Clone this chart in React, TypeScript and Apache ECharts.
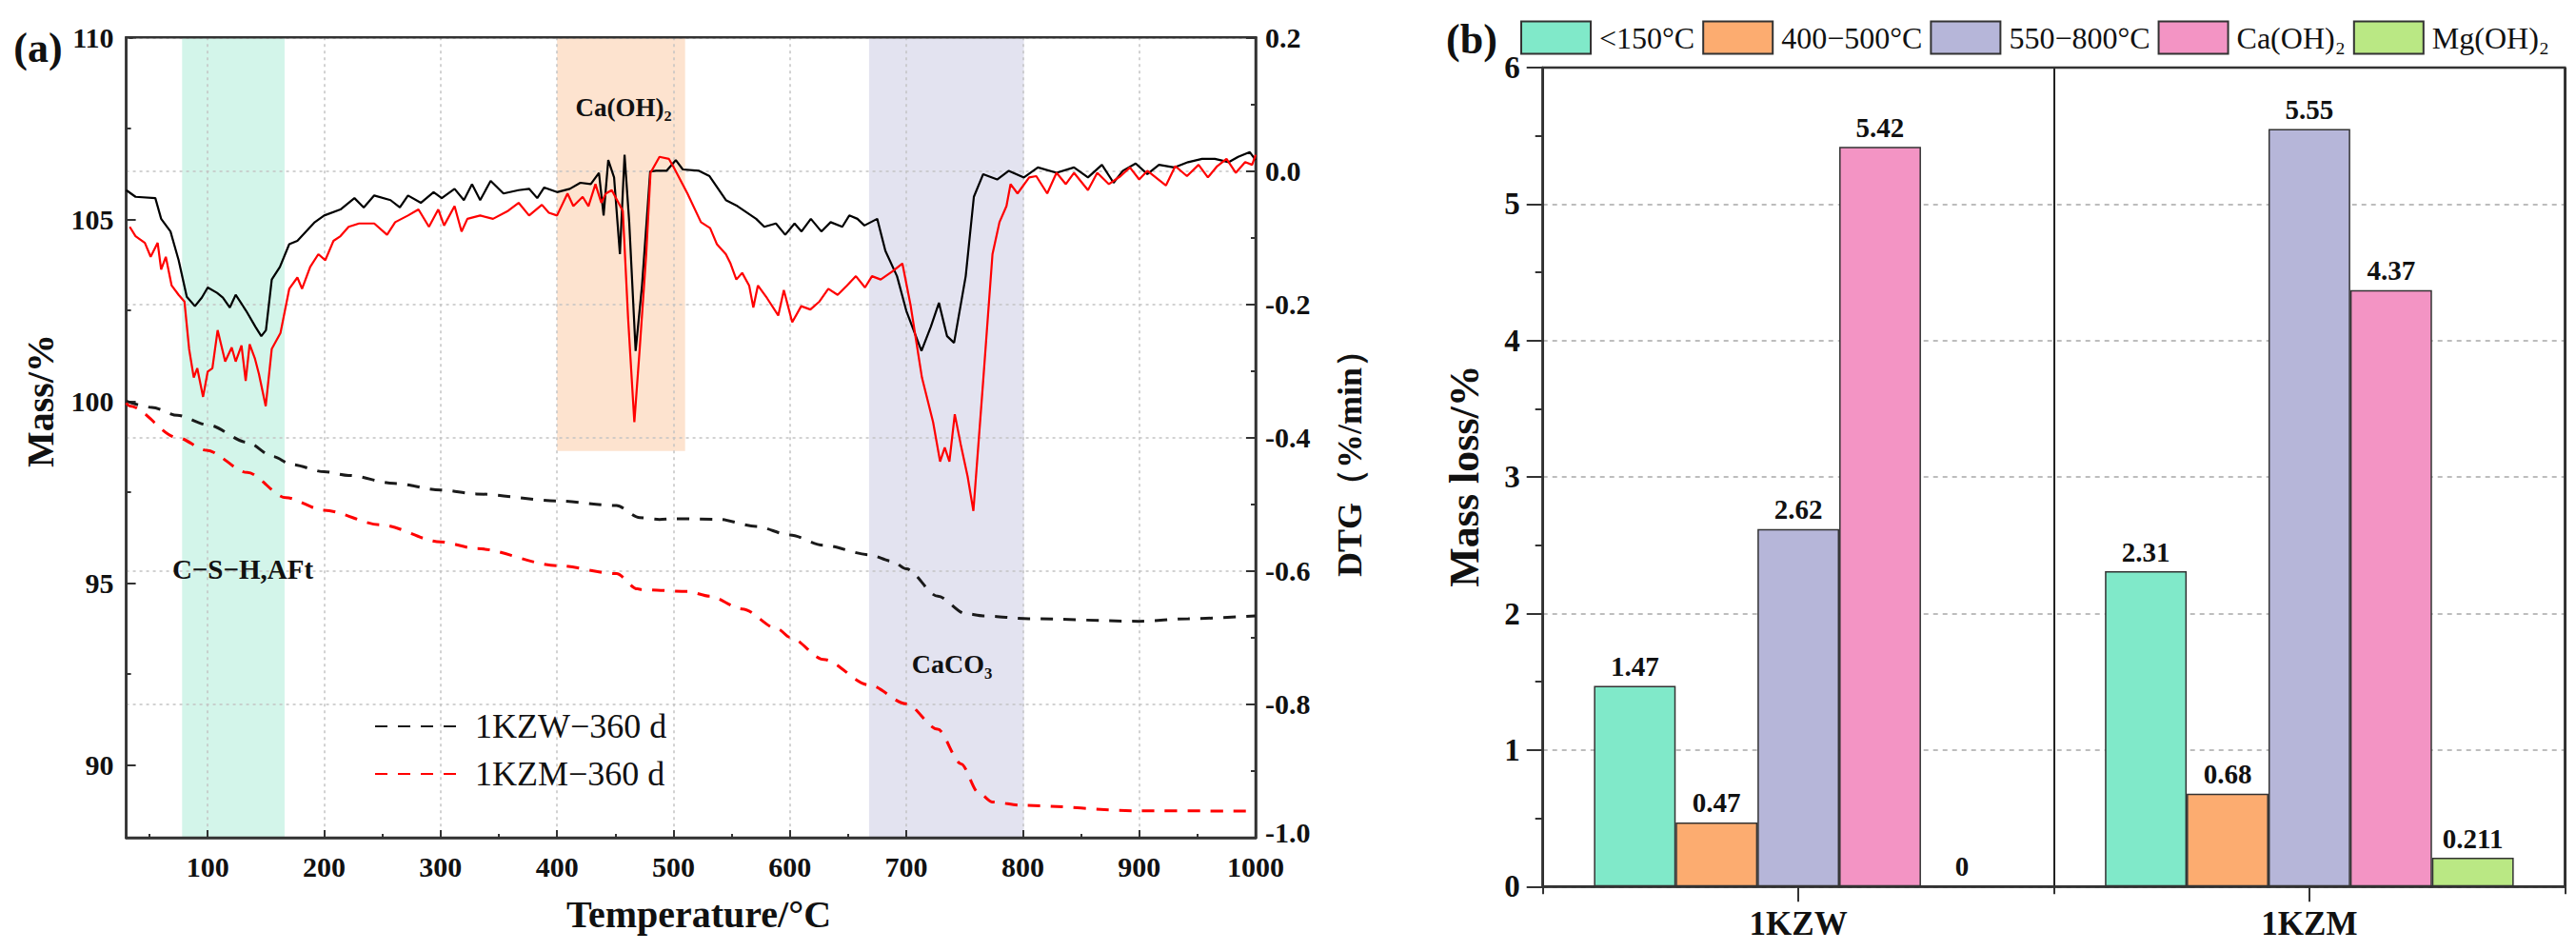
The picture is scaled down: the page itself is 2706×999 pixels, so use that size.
import React, { useEffect, useRef } from 'react';
import * as echarts from 'echarts';

const FONT = "'Liberation Serif', 'Times New Roman', Times, serif";

// ---------- Panel (a): TG / DTG ----------
const tgNames = ['1KZW−360 d', '1KZM−360 d'];
const dtgNames = ['1KZW DTG', '1KZM DTG'];

const tgKZW: [number, number][] = [
  [30, 100.0], [52, 99.83], [74, 99.61], [100, 99.35], [134, 98.87], [156, 98.48], [172, 98.26],
  [200, 98.06], [221, 97.96], [260, 97.74], [300, 97.56], [331, 97.45], [400, 97.26], [451, 97.13],
  [471, 96.8], [488, 96.75], [500, 96.77], [539, 96.75], [571, 96.56], [600, 96.32], [629, 96.04],
  [668, 95.78], [688, 95.6], [700, 95.39], [727, 94.64], [751, 94.16], [766, 94.1], [805, 94.02],
  [900, 93.95], [942, 94.02], [1000, 94.1],
];

const tgKZM: [number, number][] = [
  [30, 99.95], [33, 99.87], [74, 99.0], [99, 98.65], [134, 98.04], [167, 97.35], [200, 97.0],
  [249, 96.6], [300, 96.13], [331, 95.95], [400, 95.48], [451, 95.26], [469, 94.84], [473, 94.82],
  [512, 94.77], [531, 94.64], [559, 94.29], [590, 93.73], [600, 93.51], [629, 92.9], [668, 92.2],
  [700, 91.68], [727, 90.98], [747, 90.03], [762, 89.24], [774, 88.98], [800, 88.89], [900, 88.74],
  [1000, 88.73],
];

const dtgKZW: [number, number][] = [
  [30, -0.029], [38, -0.039], [55, -0.041], [60, -0.072], [68, -0.091], [75, -0.134], [82, -0.189],
  [89, -0.203], [95, -0.19], [100, -0.175], [108, -0.183], [113, -0.19], [119, -0.205], [124, -0.186],
  [133, -0.21], [141, -0.234], [146, -0.248], [150, -0.239], [155, -0.163], [162, -0.144], [170, -0.11],
  [177, -0.105], [192, -0.077], [200, -0.067], [214, -0.058], [226, -0.041], [234, -0.055], [243, -0.037],
  [257, -0.044], [265, -0.055], [272, -0.037], [283, -0.048], [294, -0.032], [301, -0.041], [312, -0.027],
  [320, -0.044], [327, -0.02], [334, -0.044], [343, -0.015], [354, -0.034], [367, -0.029], [376, -0.027],
  [383, -0.041], [389, -0.025], [400, -0.032], [411, -0.027], [420, -0.018], [429, -0.02], [436, -0.003],
  [440, -0.067], [444, 0.016], [449, -0.01], [454, -0.125], [458, 0.024], [462, -0.077], [467.5, -0.27],
  [473, -0.172], [480, -0.001], [485, 0.0], [494, 0.0], [502, 0.016], [508, 0.002], [522, 0.0],
  [531, -0.008], [545, -0.044], [555, -0.053], [571, -0.072], [578, -0.084], [588, -0.079], [596, -0.096],
  [604, -0.079], [610, -0.091], [618, -0.072], [627, -0.091], [635, -0.077], [645, -0.084], [651, -0.067],
  [658, -0.072], [664, -0.082], [675, -0.072], [682, -0.12], [692, -0.158], [700, -0.21], [713, -0.27],
  [721, -0.234], [728, -0.198], [735, -0.248], [741, -0.258], [751, -0.158], [758, -0.039], [766, -0.005],
  [778, -0.013], [788, 0.0], [801, -0.01], [813, 0.005], [829, -0.003], [844, 0.005], [856, -0.01],
  [868, 0.009], [878, -0.018], [886, 0.0], [897, 0.011], [907, -0.005], [917, 0.009], [930, 0.005],
  [942, 0.013], [954, 0.018], [965, 0.018], [977, 0.013], [985, 0.021], [995, 0.028], [1000, 0.016],
];

const dtgKZM: [number, number][] = [
  [33, -0.084], [38, -0.098], [46, -0.108], [51, -0.129], [57, -0.108], [60, -0.148], [64, -0.129],
  [69, -0.172], [75, -0.186], [80, -0.196], [84, -0.267], [88, -0.31], [91, -0.296], [96, -0.339],
  [100, -0.301], [104, -0.296], [108.5, -0.239], [115, -0.286], [120.6, -0.265], [124, -0.286],
  [129, -0.262], [132.6, -0.315], [136, -0.26], [140.6, -0.282], [144, -0.305], [149.8, -0.353],
  [155, -0.267], [162.5, -0.243], [170, -0.177], [177, -0.16], [181, -0.177], [188, -0.144], [195, -0.125],
  [201, -0.134], [208, -0.105], [214, -0.098], [221, -0.084], [230, -0.079], [243, -0.079], [254, -0.096],
  [261, -0.077], [272, -0.067], [281, -0.058], [290, -0.084], [298, -0.058], [303, -0.082], [312, -0.053],
  [318, -0.091], [323, -0.072], [334, -0.067], [345, -0.072], [358, -0.06], [367, -0.048], [376, -0.067],
  [387, -0.051], [393, -0.063], [400, -0.067], [409, -0.034], [414, -0.053], [422, -0.039], [427, -0.053],
  [433, -0.02], [438, -0.048], [442, -0.034], [447, -0.029], [456.5, -0.06], [461, -0.22], [466.4, -0.377],
  [471, -0.267], [476.6, -0.125], [480.3, -0.003], [488, 0.021], [496, 0.018], [500, 0.006], [512, -0.034],
  [523.6, -0.077], [531.5, -0.086], [537.3, -0.11], [545, -0.125], [549, -0.139], [554, -0.163],
  [559, -0.153], [565, -0.172], [568.6, -0.205], [572.5, -0.172], [580.4, -0.191], [590, -0.217],
  [594.8, -0.179], [602, -0.227], [609.7, -0.203], [617.6, -0.208], [625.4, -0.196], [633, -0.177],
  [641, -0.186], [649, -0.172], [656.7, -0.158], [664.5, -0.175], [670.5, -0.158], [678, -0.163],
  [688, -0.151], [696.6, -0.139], [703.6, -0.201], [713.4, -0.31], [723, -0.377], [729, -0.436],
  [733, -0.415], [737, -0.436], [741.6, -0.365], [746.7, -0.41], [752.6, -0.458], [757.6, -0.51],
  [766, -0.315], [774, -0.125], [780, -0.077], [786, -0.053], [789.5, -0.02], [795.5, -0.034],
  [805.5, -0.01], [811.6, -0.008], [821, -0.034], [829, -0.003], [837, -0.02], [844, -0.003], [856, -0.029],
  [864, -0.003], [874, -0.02], [884, -0.008], [892, 0.005], [900, -0.013], [907, 0.0], [923, -0.022],
  [931, 0.007], [941, -0.008], [951, 0.009], [959, -0.01], [967, 0.007], [975, 0.018], [983, -0.003],
  [991, 0.013], [997, 0.009], [1000, 0.024],
];

// shaded temperature ranges (°C) and the DTG extent of the Ca(OH)2 band
const bandCSH = [78, 166];
const bandCH = [400, 510];
const bandCHDtg = [0.2, -0.42];
const bandCC = [668, 801];

const tempMajorTicks = [100, 200, 300, 400, 500, 600, 700, 800, 900, 1000];
const tempMinorTicks = [50, 150, 250, 350, 450, 550, 650, 750, 850, 950];
const massMajorTicks = [90, 95, 100, 105, 110];
const massMinorTicks = [92.5, 97.5, 102.5, 107.5];

// ---------- Panel (b): mass loss bars ----------
const samples = ['1KZW', '1KZM'];
const lossNames = ['<150°C', '400−500°C', '550−800°C', 'Ca(OH)₂', 'Mg(OH)₂'];
const loss150 = [1.47, 2.31];
const loss400 = [0.47, 0.68];
const loss550 = [2.62, 5.55];
const lossCH = [5.42, 4.37];
const lossMH = [0, 0.211];
const lossColors = ['#80e9c9', '#fcac70', '#b6b6d9', '#f394c4', '#bae884'];
const lossValues = [loss150, loss400, loss550, lossCH, lossMH];

const AX = '#333';
const TXT = '#111';

function buildOption() {
  const tickLine = { color: AX, width: 2 };
  const boldLabel = (size: number, margin: number) => ({
    fontFamily: FONT,
    fontWeight: 'bold',
    fontSize: size,
    color: TXT,
    margin,
  });

  const text = (
    t: string,
    x: number,
    y: number,
    size: number,
    weight: string,
    rotate = false
  ) => ({
    type: 'text',
    x,
    y,
    rotation: rotate ? Math.PI / 2 : 0,
    z: 10,
    style: {
      text: t,
      fontFamily: FONT,
      fontSize: size,
      fontWeight: weight,
      fill: TXT,
      textAlign: 'center',
      textVerticalAlign: 'middle',
      verticalAlign: 'middle',
    },
  });

  return {
    animation: false,
    backgroundColor: '#ffffff',
    grid: [
      {
        left: 132.6,
        top: 39.3,
        width: 1186.4,
        height: 840.7,
        show: true,
        z: 3,
        backgroundColor: 'transparent',
        borderColor: AX,
        borderWidth: 2.5,
      },
      {
        left: 1620.7,
        top: 71,
        width: 1073.6,
        height: 860.3,
        show: true,
        z: 3,
        backgroundColor: 'transparent',
        borderColor: AX,
        borderWidth: 2.5,
      },
    ],
    legend: [
      {
        data: tgNames,
        orient: 'vertical',
        left: 388,
        top: 740,
        itemWidth: 92,
        itemHeight: 20,
        itemGap: 14,
        selectedMode: false,
        itemStyle: { opacity: 0 },
        textStyle: { fontFamily: FONT, fontSize: 36, color: TXT, padding: [0, 0, 0, 8] },
      },
      {
        data: lossNames,
        orient: 'horizontal',
        left: 1592,
        top: 16.5,
        itemWidth: 73,
        itemHeight: 34,
        itemGap: 8,
        icon: 'rect',
        selectedMode: false,
        textStyle: { fontFamily: FONT, fontSize: 32, color: TXT, padding: [0, 0, 0, 4] },
      },
    ],
    xAxis: [
      {
        gridIndex: 0,
        type: 'value',
        position: 'bottom',
        min: 30,
        max: 1000,
        splitNumber: 10,
        z: 1.5,
        axisLine: { show: true, onZero: false, lineStyle: { color: AX, width: 2.5 } },
        axisTick: { show: true, inside: true, length: 8, lineStyle: tickLine, customValues: tempMajorTicks },
        axisLabel: {
          ...boldLabel(30, 19),
          lineHeight: 22,
          customValues: tempMajorTicks,
          formatter: (v: number) => String(v),
        },
        splitLine: { show: true, lineStyle: { color: '#c4c4c4', width: 1.5, type: [3, 4] } },
      },
      {
        gridIndex: 0,
        type: 'value',
        position: 'bottom',
        min: 30,
        max: 1000,
        axisLine: { show: false, onZero: false },
        axisTick: { show: true, inside: true, length: 4, lineStyle: tickLine, customValues: tempMinorTicks },
        axisLabel: { show: false },
        splitLine: { show: false },
      },
      {
        gridIndex: 1,
        type: 'category',
        position: 'bottom',
        data: samples,
        axisLine: { show: true, onZero: false, lineStyle: { color: '#222', width: 2.5 } },
        axisTick: { show: true, alignWithLabel: true, inside: false, length: 16, lineStyle: tickLine },
        axisLabel: boldLabel(35, 22),
        splitLine: { show: false },
      },
      {
        gridIndex: 1,
        type: 'value',
        position: 'bottom',
        min: 0,
        max: 2,
        interval: 1,
        axisLine: { show: false, onZero: false },
        axisTick: { show: true, inside: false, length: 8, lineStyle: tickLine },
        axisLabel: { show: false },
        splitLine: { show: true, lineStyle: { color: '#222', width: 2 } },
      },
    ],
    yAxis: [
      {
        gridIndex: 0,
        type: 'value',
        position: 'left',
        min: 88,
        max: 110,
        splitNumber: 5,
        axisLine: { show: true, onZero: false, lineStyle: { color: AX, width: 2.5 } },
        axisTick: { show: true, inside: true, length: 10, lineStyle: tickLine, customValues: massMajorTicks },
        axisLabel: { ...boldLabel(30, 13), lineHeight: 22, customValues: massMajorTicks },
        splitLine: { show: false },
      },
      {
        gridIndex: 0,
        type: 'value',
        position: 'right',
        min: -1,
        max: 0.2,
        interval: 0.2,
        z: 1.5,
        axisLine: { show: true, onZero: false, lineStyle: { color: AX, width: 2.5 } },
        axisTick: { show: true, inside: true, length: 10, lineStyle: tickLine },
        minorTick: { show: true, splitNumber: 2, length: 5, lineStyle: tickLine },
        axisLabel: {
          ...boldLabel(30, 10),
          lineHeight: 22,
          formatter: (v: number) => {
            const s = Math.abs(v) < 1e-9 ? '0.0' : v.toFixed(1);
            return Math.abs(v + 1) < 1e-9 ? '{lo|' + s + '}' : s;
          },
          rich: {
            lo: {
              fontFamily: FONT,
              fontWeight: 'bold',
              fontSize: 30,
              color: TXT,
              padding: [0, 0, 12, 0],
            },
          },
        },
        splitLine: { show: true, lineStyle: { color: '#c4c4c4', width: 1.5, type: [3, 4] } },
      },
      {
        gridIndex: 0,
        type: 'value',
        position: 'left',
        min: 88,
        max: 110,
        axisLine: { show: false, onZero: false },
        axisTick: { show: true, inside: true, length: 5, lineStyle: tickLine, customValues: massMinorTicks },
        axisLabel: { show: false },
        splitLine: { show: false },
      },
      {
        gridIndex: 1,
        type: 'value',
        position: 'left',
        min: 0,
        max: 6,
        interval: 1,
        axisLine: { show: true, onZero: false, lineStyle: { color: '#222', width: 2.5 } },
        axisTick: { show: true, inside: false, length: 17, lineStyle: tickLine },
        minorTick: { show: true, splitNumber: 2, length: 8, lineStyle: tickLine },
        axisLabel: boldLabel(33, 24),
        splitLine: { show: true, lineStyle: { color: '#a8a8a8', width: 1.5, type: [5, 5] } },
      },
    ],
    series: [
      {
        name: dtgNames[0],
        type: 'line',
        xAxisIndex: 0,
        yAxisIndex: 1,
        data: dtgKZW,
        symbol: 'none',
        z: 3,
        lineStyle: { color: '#000000', width: 2.2 },
        markArea: {
          silent: true,
          z: 1,
          data: [
            [{ xAxis: bandCSH[0], itemStyle: { color: '#d3f5ea' } }, { xAxis: bandCSH[1] }],
            [
              { xAxis: bandCH[0], yAxis: bandCHDtg[0], itemStyle: { color: '#fde3cf' } },
              { xAxis: bandCH[1], yAxis: bandCHDtg[1] },
            ],
            [{ xAxis: bandCC[0], itemStyle: { color: '#e3e3f0' } }, { xAxis: bandCC[1] }],
          ],
        },
      },
      {
        name: dtgNames[1],
        type: 'line',
        xAxisIndex: 0,
        yAxisIndex: 1,
        data: dtgKZM,
        symbol: 'none',
        z: 4,
        lineStyle: { color: '#ff0000', width: 2.2 },
      },
      {
        name: tgNames[0],
        type: 'line',
        xAxisIndex: 0,
        yAxisIndex: 0,
        data: tgKZW,
        symbol: 'none',
        smooth: 0.3,
        smoothMonotone: 'x',
        z: 4,
        itemStyle: { color: '#1a1a1a' },
        lineStyle: { color: '#1a1a1a', width: 3, type: [13, 11] },
      },
      {
        name: tgNames[1],
        type: 'line',
        xAxisIndex: 0,
        yAxisIndex: 0,
        data: tgKZM,
        symbol: 'none',
        smooth: 0.3,
        smoothMonotone: 'x',
        z: 4,
        itemStyle: { color: '#ff0000' },
        lineStyle: { color: '#ff0000', width: 3, type: [13, 11] },
      },
      ...lossNames.map((n, i) => ({
        name: n,
        type: 'bar',
        xAxisIndex: 2,
        yAxisIndex: 3,
        data: lossValues[i],
        barGap: '0%',
        barCategoryGap: '20%',
        z: 4,
        itemStyle: { color: lossColors[i], borderColor: '#333', borderWidth: 1.5 },
        label: {
          show: true,
          position: 'top',
          distance: 6,
          fontFamily: FONT,
          fontWeight: 'bold',
          fontSize: 29,
          color: TXT,
        },
      })),
    ],
    graphic: [
      text('(a)', 40, 50, 44, 'bold'),
      text('(b)', 1546, 41, 44, 'bold'),
      text('Ca(OH)₂', 655, 113, 27, 'bold'),
      text('C−S−H,AFt', 255, 598, 29, 'bold'),
      text('CaCO₃', 1000, 697, 28, 'bold'),
      text('Mass/%', 42.5, 421, 40, 'bold', true),
      text('DTG（%/min）', 1417.5, 478, 36, 'bold', true),
      text('Temperature/°C', 734, 960, 40, 'bold'),
      text('Mass loss/%', 1538, 500, 44, 'bold', true),
    ],
  };
}

export default function App() {
  const ref = useRef<HTMLDivElement>(null);
  useEffect(() => {
    if (!ref.current) return;
    const chart = echarts.init(ref.current, null, { renderer: 'svg' });
    chart.setOption(buildOption() as any);
    return () => chart.dispose();
  }, []);
  return (
    <div
      ref={ref}
      style={{ position: 'absolute', left: 0, top: 0, width: 2706, height: 999, background: '#fff' }}
    />
  );
}
